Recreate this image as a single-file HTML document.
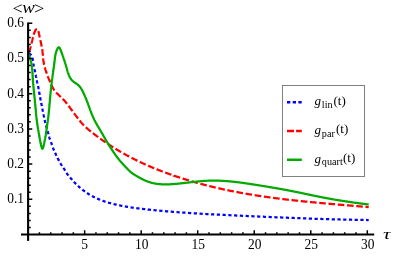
<!DOCTYPE html><html><head><meta charset="utf-8"><style>html,body{margin:0;padding:0;background:#fff;overflow:hidden}body{width:415px;height:259px;position:relative;font-family:"Liberation Serif",serif}</style></head><body><svg width="415" height="259" viewBox="0 0 415 259" style="position:absolute;left:0;top:0;will-change:transform">
<rect width="415" height="259" fill="#fff"/>
<path d="M28.10,53.50 L28.10,53.50 M28.74,53.61 L28.75,53.62 L29.05,53.70 L29.34,53.81 L29.61,53.94 L29.86,54.08 L30.10,54.23 L30.33,54.41 L30.54,54.59 L30.74,54.79 L30.93,55.01 L31.11,55.23 L31.27,55.47 L31.27,55.47 M32.29,57.78 L32.33,57.92 L32.41,58.22 L32.49,58.52 L32.56,58.81 L32.62,59.11 L32.69,59.40 L32.75,59.70 L32.80,59.99 L32.85,60.29 L32.91,60.58 L32.95,60.87 L32.96,60.92 M33.35,63.43 L33.36,63.47 L33.40,63.75 L33.45,64.04 L33.50,64.33 L33.56,64.61 L33.61,64.90 L33.67,65.19 L33.73,65.47 L33.79,65.76 L33.86,66.05 L33.92,66.33 L33.98,66.59 M34.56,69.05 L34.60,69.21 L34.66,69.49 L34.73,69.78 L34.79,70.07 L34.86,70.36 L34.92,70.65 L34.98,70.93 L35.04,71.22 L35.09,71.51 L35.15,71.80 L35.21,72.09 L35.23,72.20 M35.69,74.69 L35.74,74.98 L35.79,75.27 L35.84,75.56 L35.90,75.85 L35.95,76.14 L36.01,76.43 L36.06,76.72 L36.11,77.00 L36.17,77.29 L36.23,77.58 L36.28,77.86 M36.79,80.34 L36.82,80.46 L36.88,80.75 L36.94,81.04 L37.01,81.33 L37.07,81.61 L37.13,81.90 L37.20,82.19 L37.26,82.48 L37.33,82.76 L37.39,83.05 L37.46,83.34 L37.49,83.49 M38.04,85.96 L38.10,86.21 L38.16,86.50 L38.22,86.79 L38.28,87.07 L38.33,87.36 L38.39,87.65 L38.45,87.94 L38.50,88.23 L38.55,88.52 L38.61,88.81 L38.66,89.10 L38.66,89.13 M39.09,91.63 L39.10,91.71 L39.15,92.00 L39.19,92.29 L39.24,92.58 L39.29,92.87 L39.34,93.16 L39.39,93.45 L39.44,93.74 L39.49,94.03 L39.54,94.32 L39.60,94.61 L39.63,94.81 M40.10,97.30 L40.14,97.50 L40.20,97.79 L40.26,98.08 L40.31,98.36 L40.37,98.65 L40.43,98.94 L40.49,99.23 L40.54,99.52 L40.60,99.81 L40.66,100.10 L40.71,100.38 L40.73,100.46 M41.23,102.95 L41.23,102.98 L41.29,103.27 L41.35,103.56 L41.41,103.85 L41.47,104.13 L41.52,104.42 L41.58,104.71 L41.64,105.00 L41.70,105.29 L41.76,105.58 L41.81,105.86 L41.87,106.11 M42.36,108.60 L42.39,108.75 L42.45,109.04 L42.51,109.33 L42.56,109.61 L42.62,109.90 L42.68,110.19 L42.74,110.48 L42.79,110.77 L42.85,111.06 L42.91,111.35 L42.96,111.64 L42.99,111.77 M43.47,114.26 L43.53,114.52 L43.58,114.81 L43.64,115.10 L43.70,115.39 L43.76,115.68 L43.81,115.97 L43.87,116.25 L43.93,116.54 L43.99,116.83 L44.05,117.12 L44.11,117.41 L44.11,117.42 M44.64,119.91 L44.66,120.00 L44.72,120.28 L44.79,120.57 L44.85,120.86 L44.92,121.15 L44.98,121.43 L45.05,121.72 L45.12,122.00 L45.19,122.29 L45.26,122.58 L45.33,122.86 L45.38,123.05 M46.03,125.50 L46.09,125.71 L46.17,125.99 L46.25,126.27 L46.33,126.55 L46.41,126.84 L46.49,127.12 L46.58,127.40 L46.66,127.68 L46.75,127.96 L46.83,128.25 L46.92,128.53 L46.94,128.60 M47.67,131.03 L47.68,131.06 L47.76,131.35 L47.84,131.63 L47.92,131.91 L47.99,132.20 L48.07,132.48 L48.14,132.77 L48.22,133.05 L48.29,133.34 L48.36,133.62 L48.43,133.91 L48.49,134.16 M49.09,136.62 L49.13,136.77 L49.21,137.05 L49.28,137.34 L49.36,137.62 L49.45,137.90 L49.53,138.18 L49.62,138.46 L49.71,138.74 L49.81,139.02 L49.90,139.30 L50.00,139.57 L50.05,139.71 M50.96,142.08 L51.05,142.32 L51.16,142.60 L51.26,142.87 L51.37,143.15 L51.47,143.42 L51.57,143.70 L51.67,143.98 L51.77,144.25 L51.87,144.53 L51.96,144.81 L52.06,145.09 L52.07,145.11 M52.88,147.52 L52.91,147.60 L53.01,147.88 L53.11,148.15 L53.21,148.43 L53.31,148.70 L53.41,148.98 L53.52,149.25 L53.63,149.53 L53.74,149.80 L53.85,150.07 L53.97,150.34 L54.05,150.53 M55.10,152.84 L55.19,153.02 L55.31,153.28 L55.44,153.55 L55.57,153.81 L55.70,154.08 L55.83,154.35 L55.95,154.61 L56.08,154.88 L56.21,155.14 L56.34,155.41 L56.46,155.67 L56.50,155.75 M57.62,158.04 L57.62,158.05 L57.75,158.32 L57.88,158.58 L58.02,158.84 L58.15,159.10 L58.28,159.37 L58.41,159.63 L58.55,159.89 L58.68,160.15 L58.82,160.41 L58.95,160.68 L59.08,160.92 M60.31,163.14 L60.38,163.25 L60.53,163.51 L60.68,163.76 L60.83,164.01 L60.99,164.26 L61.14,164.51 L61.30,164.76 L61.46,165.00 L61.62,165.25 L61.78,165.49 L61.95,165.74 L62.04,165.87 M63.46,167.97 L63.60,168.18 L63.76,168.43 L63.93,168.68 L64.09,168.92 L64.25,169.17 L64.40,169.42 L64.56,169.67 L64.71,169.93 L64.87,170.18 L65.02,170.43 L65.17,170.68 L65.19,170.71 M66.51,172.88 L66.53,172.91 L66.69,173.15 L66.84,173.39 L67.01,173.62 L67.17,173.86 L67.34,174.09 L67.50,174.32 L67.68,174.55 L67.85,174.78 L68.03,175.01 L68.21,175.24 L68.40,175.47 L68.41,175.49 M70.06,177.43 L70.14,177.52 L70.34,177.75 L70.54,177.98 L70.74,178.21 L70.94,178.44 L71.14,178.67 L71.34,178.90 L71.54,179.13 L71.74,179.35 L71.95,179.58 L72.15,179.81 L72.19,179.86 M73.90,181.74 L73.96,181.81 L74.16,182.03 L74.36,182.24 L74.56,182.45 L74.76,182.67 L74.96,182.88 L75.17,183.09 L75.37,183.29 L75.57,183.50 L75.77,183.71 L75.97,183.91 L76.14,184.07 M77.97,185.83 L78.03,185.89 L78.24,186.08 L78.45,186.28 L78.66,186.47 L78.88,186.66 L79.09,186.86 L79.31,187.05 L79.53,187.24 L79.74,187.43 L79.96,187.62 L80.18,187.81 L80.39,187.98 M82.35,189.60 L82.45,189.68 L82.68,189.86 L82.91,190.04 L83.15,190.22 L83.38,190.40 L83.62,190.58 L83.85,190.75 L84.09,190.93 L84.32,191.11 L84.56,191.28 L84.80,191.46 L84.93,191.55 M87.02,192.99 L87.24,193.14 L87.49,193.30 L87.73,193.46 L87.98,193.62 L88.24,193.78 L88.49,193.94 L88.74,194.10 L88.99,194.26 L89.25,194.41 L89.50,194.57 L89.75,194.72 M91.96,195.98 L92.09,196.05 L92.35,196.19 L92.61,196.34 L92.87,196.48 L93.14,196.61 L93.40,196.75 L93.67,196.89 L93.93,197.02 L94.19,197.16 L94.46,197.29 L94.72,197.42 L94.83,197.47 M97.13,198.55 L97.39,198.66 L97.66,198.78 L97.92,198.89 L98.19,199.01 L98.46,199.12 L98.73,199.24 L99.00,199.35 L99.26,199.46 L99.53,199.57 L99.80,199.68 L100.07,199.78 L100.11,199.80 M102.49,200.70 L102.51,200.71 L102.78,200.81 L103.06,200.91 L103.33,201.00 L103.61,201.10 L103.89,201.20 L104.17,201.29 L104.44,201.38 L104.72,201.48 L105.00,201.57 L105.29,201.66 L105.55,201.75 M107.98,202.50 L108.12,202.54 L108.40,202.63 L108.69,202.71 L108.97,202.79 L109.26,202.88 L109.54,202.96 L109.82,203.04 L110.11,203.12 L110.39,203.19 L110.68,203.27 L110.96,203.35 L111.09,203.39 M113.55,204.03 L113.80,204.09 L114.08,204.16 L114.37,204.23 L114.65,204.30 L114.94,204.37 L115.22,204.44 L115.51,204.51 L115.80,204.57 L116.08,204.64 L116.37,204.71 L116.66,204.77 L116.69,204.78 M119.18,205.33 L119.25,205.34 L119.54,205.40 L119.83,205.46 L120.11,205.52 L120.40,205.58 L120.69,205.64 L120.98,205.70 L121.27,205.75 L121.56,205.81 L121.85,205.87 L122.14,205.92 L122.35,205.96 M124.85,206.43 L125.04,206.46 L125.33,206.51 L125.62,206.56 L125.91,206.61 L126.20,206.66 L126.49,206.71 L126.78,206.76 L127.07,206.81 L127.36,206.85 L127.65,206.90 L127.94,206.95 L128.04,206.97 M130.55,207.36 L130.55,207.36 L130.85,207.40 L131.14,207.44 L131.43,207.49 L131.72,207.53 L132.01,207.57 L132.30,207.61 L132.59,207.65 L132.88,207.70 L133.17,207.74 L133.46,207.78 L133.75,207.82 M136.27,208.15 L136.38,208.17 L136.67,208.20 L136.96,208.24 L137.25,208.28 L137.54,208.31 L137.84,208.35 L138.13,208.39 L138.42,208.42 L138.71,208.46 L139.00,208.49 L139.29,208.53 L139.48,208.55 M142.00,208.85 L142.21,208.87 L142.50,208.91 L142.80,208.94 L143.09,208.97 L143.38,209.01 L143.67,209.04 L143.96,209.07 L144.26,209.10 L144.55,209.14 L144.84,209.17 L145.13,209.20 L145.21,209.21 M147.74,209.48 L147.76,209.49 L148.05,209.52 L148.35,209.55 L148.64,209.58 L148.93,209.61 L149.22,209.64 L149.52,209.67 L149.81,209.70 L150.10,209.73 L150.39,209.76 L150.68,209.79 L150.96,209.82 M153.48,210.08 L153.61,210.09 L153.90,210.12 L154.19,210.15 L154.49,210.18 L154.78,210.21 L155.07,210.24 L155.37,210.26 L155.66,210.29 L155.95,210.32 L156.24,210.35 L156.54,210.38 L156.70,210.39 M159.23,210.63 L159.46,210.66 L159.76,210.68 L160.05,210.71 L160.34,210.74 L160.64,210.76 L160.93,210.79 L161.22,210.82 L161.51,210.84 L161.81,210.87 L162.10,210.90 L162.39,210.92 L162.45,210.93 M164.98,211.15 L165.03,211.16 L165.32,211.18 L165.62,211.21 L165.91,211.23 L166.20,211.26 L166.50,211.28 L166.79,211.31 L167.08,211.33 L167.38,211.36 L167.67,211.38 L167.96,211.41 L168.20,211.43 M170.73,211.64 L170.90,211.65 L171.19,211.68 L171.48,211.70 L171.78,211.72 L172.07,211.75 L172.36,211.77 L172.66,211.79 L172.95,211.82 L173.24,211.84 L173.54,211.86 L173.83,211.89 L173.96,211.90 M176.49,212.09 L176.77,212.11 L177.06,212.14 L177.35,212.16 L177.65,212.18 L177.94,212.20 L178.23,212.22 L178.53,212.25 L178.82,212.27 L179.11,212.29 L179.41,212.31 L179.70,212.33 L179.71,212.33 M182.24,212.52 L182.34,212.52 L182.64,212.55 L182.93,212.57 L183.23,212.59 L183.52,212.61 L183.81,212.63 L184.11,212.65 L184.40,212.67 L184.69,212.69 L184.99,212.71 L185.28,212.73 L185.47,212.74 M188.00,212.91 L188.22,212.93 L188.51,212.95 L188.81,212.97 L189.10,212.99 L189.40,213.01 L189.69,213.03 L189.98,213.05 L190.28,213.07 L190.57,213.08 L190.86,213.10 L191.16,213.12 L191.23,213.13 M193.76,213.29 L193.80,213.29 L194.10,213.31 L194.39,213.33 L194.68,213.35 L194.98,213.36 L195.27,213.38 L195.57,213.40 L195.86,213.42 L196.15,213.44 L196.45,213.45 L196.74,213.47 L196.98,213.49 M199.52,213.64 L199.68,213.65 L199.97,213.67 L200.27,213.68 L200.56,213.70 L200.85,213.72 L201.15,213.74 L201.44,213.75 L201.73,213.77 L202.03,213.79 L202.32,213.80 L202.62,213.82 L202.74,213.83 M205.28,213.97 L205.55,213.99 L205.85,214.00 L206.14,214.02 L206.44,214.04 L206.73,214.05 L207.02,214.07 L207.32,214.08 L207.61,214.10 L207.90,214.12 L208.20,214.13 L208.49,214.15 L208.50,214.15 M211.04,214.28 L211.14,214.29 L211.43,214.31 L211.72,214.32 L212.02,214.34 L212.31,214.35 L212.60,214.37 L212.90,214.38 L213.19,214.40 L213.49,214.41 L213.78,214.43 L214.07,214.44 L214.26,214.45 M216.79,214.58 L217.01,214.59 L217.31,214.61 L217.60,214.62 L217.89,214.64 L218.19,214.65 L218.48,214.67 L218.77,214.68 L219.07,214.70 L219.36,214.71 L219.66,214.73 L219.95,214.74 L220.02,214.74 M222.55,214.87 L222.59,214.87 L222.89,214.89 L223.18,214.90 L223.48,214.91 L223.77,214.93 L224.06,214.94 L224.36,214.96 L224.65,214.97 L224.95,214.98 L225.24,215.00 L225.53,215.01 L225.78,215.02 M228.31,215.14 L228.47,215.15 L228.77,215.17 L229.06,215.18 L229.35,215.19 L229.65,215.21 L229.94,215.22 L230.24,215.24 L230.53,215.25 L230.82,215.26 L231.12,215.28 L231.41,215.29 L231.53,215.30 M234.07,215.41 L234.35,215.43 L234.64,215.44 L234.94,215.45 L235.23,215.47 L235.53,215.48 L235.82,215.49 L236.11,215.51 L236.41,215.52 L236.70,215.53 L237.00,215.55 L237.29,215.56 M239.82,215.67 L239.93,215.68 L240.23,215.69 L240.52,215.71 L240.82,215.72 L241.11,215.73 L241.40,215.75 L241.70,215.76 L241.99,215.77 L242.28,215.79 L242.58,215.80 L242.87,215.81 L243.04,215.82 M245.58,215.93 L245.81,215.94 L246.10,215.96 L246.40,215.97 L246.69,215.98 L246.98,216.00 L247.28,216.01 L247.57,216.02 L247.87,216.04 L248.16,216.05 L248.45,216.06 L248.75,216.08 L248.80,216.08 M251.33,216.19 L251.39,216.19 L251.68,216.21 L251.98,216.22 L252.27,216.23 L252.56,216.25 L252.86,216.26 L253.15,216.27 L253.44,216.29 L253.74,216.30 L254.03,216.31 L254.32,216.32 L254.55,216.33 M257.08,216.45 L257.26,216.46 L257.55,216.47 L257.85,216.48 L258.14,216.49 L258.43,216.51 L258.73,216.52 L259.02,216.53 L259.31,216.55 L259.61,216.56 L259.90,216.57 L260.19,216.58 L260.30,216.59 M262.83,216.70 L262.84,216.70 L263.13,216.71 L263.42,216.73 L263.72,216.74 L264.01,216.75 L264.30,216.77 L264.60,216.78 L264.89,216.79 L265.19,216.80 L265.48,216.82 L265.77,216.83 L266.05,216.84 M268.58,216.95 L268.71,216.96 L269.00,216.97 L269.30,216.98 L269.59,216.99 L269.88,217.01 L270.18,217.02 L270.47,217.03 L270.76,217.05 L271.06,217.06 L271.35,217.07 L271.65,217.08 L271.80,217.09 M274.33,217.20 L274.58,217.21 L274.88,217.22 L275.17,217.23 L275.46,217.25 L275.76,217.26 L276.05,217.27 L276.35,217.28 L276.64,217.30 L276.93,217.31 L277.23,217.32 L277.52,217.33 L277.55,217.33 M280.07,217.44 L280.17,217.44 L280.46,217.45 L280.75,217.47 L281.05,217.48 L281.34,217.49 L281.64,217.50 L281.93,217.52 L282.22,217.53 L282.52,217.54 L282.81,217.55 L283.11,217.56 L283.29,217.57 M285.82,217.67 L286.05,217.68 L286.34,217.70 L286.63,217.71 L286.93,217.72 L287.22,217.73 L287.52,217.74 L287.81,217.76 L288.10,217.77 L288.40,217.78 L288.69,217.79 L288.99,217.80 L289.04,217.80 M291.56,217.90 L291.63,217.91 L291.93,217.92 L292.22,217.93 L292.52,217.94 L292.81,217.95 L293.10,217.97 L293.40,217.98 L293.69,217.99 L293.99,218.00 L294.28,218.01 L294.57,218.02 L294.78,218.03 M297.30,218.13 L297.52,218.14 L297.81,218.15 L298.10,218.16 L298.40,218.17 L298.69,218.18 L298.99,218.19 L299.28,218.20 L299.57,218.21 L299.87,218.22 L300.16,218.24 L300.46,218.25 L300.52,218.25 M303.05,218.34 L303.11,218.34 L303.40,218.36 L303.69,218.37 L303.99,218.38 L304.28,218.39 L304.58,218.40 L304.87,218.41 L305.17,218.42 L305.46,218.43 L305.75,218.44 L306.05,218.45 L306.26,218.46 M308.78,218.55 L308.99,218.56 L309.28,218.57 L309.58,218.58 L309.87,218.59 L310.17,218.60 L310.46,218.61 L310.76,218.62 L311.05,218.63 L311.34,218.64 L311.64,218.65 L311.93,218.66 L312.00,218.66 M314.52,218.75 L314.58,218.75 L314.88,218.76 L315.17,218.77 L315.46,218.78 L315.76,218.79 L316.05,218.80 L316.35,218.81 L316.64,218.82 L316.94,218.83 L317.23,218.84 L317.53,218.85 L317.73,218.85 M320.26,218.93 L320.47,218.94 L320.76,218.95 L321.06,218.96 L321.35,218.97 L321.65,218.98 L321.94,218.99 L322.23,219.00 L322.53,219.01 L322.82,219.01 L323.12,219.02 L323.41,219.03 L323.47,219.03 M325.99,219.11 L326.06,219.11 L326.35,219.12 L326.65,219.13 L326.94,219.14 L327.24,219.15 L327.53,219.16 L327.83,219.16 L328.12,219.17 L328.41,219.18 L328.71,219.19 L329.00,219.20 L329.20,219.20 M331.72,219.28 L331.95,219.28 L332.24,219.29 L332.53,219.30 L332.83,219.31 L333.12,219.31 L333.42,219.32 L333.71,219.33 L334.01,219.34 L334.30,219.35 L334.59,219.35 L334.89,219.36 L334.93,219.36 M337.45,219.43 L337.54,219.43 L337.83,219.44 L338.12,219.45 L338.42,219.45 L338.71,219.46 L339.01,219.47 L339.30,219.47 L339.60,219.48 L339.89,219.49 L340.18,219.50 L340.48,219.50 L340.66,219.51 M343.18,219.57 L343.42,219.57 L343.71,219.58 L344.01,219.59 L344.30,219.59 L344.60,219.60 L344.89,219.61 L345.18,219.61 L345.48,219.62 L345.77,219.63 L346.07,219.63 L346.36,219.64 L346.39,219.64 M348.90,219.69 L349.01,219.70 L349.30,219.70 L349.60,219.71 L349.89,219.71 L350.18,219.72 L350.48,219.73 L350.77,219.73 L351.07,219.74 L351.36,219.74 L351.65,219.75 L351.95,219.76 L352.11,219.76 M354.63,219.81 L354.89,219.81 L355.18,219.82 L355.48,219.82 L355.77,219.83 L356.06,219.83 L356.36,219.84 L356.65,219.84 L356.95,219.85 L357.24,219.85 L357.53,219.86 L357.83,219.86 L357.83,219.86 M360.35,219.90 L360.47,219.90 L360.77,219.91 L361.06,219.91 L361.36,219.92 L361.65,219.92 L361.94,219.93 L362.24,219.93 L362.53,219.93 L362.82,219.94 L363.12,219.94 L363.41,219.95 L363.55,219.95 M366.07,219.98 L366.35,219.99 L366.64,219.99 L366.94,219.99 L367.23,220.00 L367.53,220.00 L367.82,220.00 L368.11,220.01 L368.41,220.01 L368.70,220.01" fill="none" stroke="#0000ff" stroke-width="2.25"/>
<path d="M28.10,53.50 L28.10,53.50 M28.69,52.43 L28.80,52.21 L28.93,51.95 L29.05,51.68 L29.17,51.41 L29.28,51.14 L29.39,50.87 L29.50,50.60 L29.60,50.33 L29.70,50.06 L29.80,49.78 L29.89,49.50 L29.98,49.23 L30.07,48.95 L30.16,48.67 L30.24,48.39 L30.32,48.11 L30.40,47.82 L30.47,47.54 L30.55,47.26 L30.62,46.97 L30.70,46.69 L30.77,46.41 L30.83,46.17 M31.44,43.60 L31.45,43.55 L31.51,43.27 L31.58,42.98 L31.65,42.70 L31.72,42.41 L31.78,42.13 L31.85,41.84 L31.92,41.56 L31.98,41.27 L32.05,40.99 L32.12,40.70 L32.18,40.42 L32.25,40.14 L32.32,39.85 L32.38,39.57 L32.45,39.28 L32.52,39.00 L32.58,38.72 L32.65,38.43 L32.72,38.15 L32.79,37.87 L32.86,37.58 L32.93,37.30 L32.97,37.15 M33.68,34.61 L33.73,34.47 L33.82,34.19 L33.91,33.90 L34.01,33.63 L34.11,33.35 L34.21,33.07 L34.31,32.80 L34.41,32.53 L34.52,32.26 L34.62,31.99 L34.73,31.73 L34.84,31.47 L34.95,31.22 L35.07,30.96 L35.20,30.71 L35.35,30.46 L35.51,30.21 L35.69,29.95 L35.90,29.70 L36.13,29.45 L36.37,29.23 L36.62,29.07 L36.86,29.00 L36.86,29.00 M38.27,31.11 L38.31,31.21 L38.40,31.48 L38.49,31.75 L38.57,32.01 L38.64,32.28 L38.71,32.54 L38.78,32.81 L38.85,33.09 L38.92,33.37 L38.98,33.65 L39.05,33.94 L39.12,34.22 L39.18,34.51 L39.24,34.80 L39.31,35.09 L39.37,35.38 L39.43,35.68 L39.49,35.97 L39.55,36.26 L39.62,36.55 L39.68,36.83 L39.74,37.12 L39.80,37.41 L39.82,37.54 M40.37,40.12 L40.40,40.26 L40.46,40.54 L40.52,40.83 L40.58,41.12 L40.64,41.40 L40.70,41.69 L40.76,41.97 L40.82,42.26 L40.88,42.55 L40.94,42.83 L41.00,43.12 L41.06,43.41 L41.12,43.69 L41.18,43.98 L41.24,44.27 L41.30,44.55 L41.36,44.84 L41.42,45.13 L41.48,45.41 L41.54,45.70 L41.60,45.99 L41.66,46.27 L41.72,46.56 L41.73,46.58 M42.22,49.17 L42.26,49.44 L42.30,49.72 L42.35,50.01 L42.39,50.30 L42.42,50.59 L42.46,50.88 L42.49,51.17 L42.53,51.46 L42.56,51.75 L42.59,52.04 L42.62,52.34 L42.64,52.63 L42.67,52.92 L42.70,53.21 L42.72,53.50 L42.74,53.79 L42.77,54.09 L42.79,54.38 L42.81,54.67 L42.83,54.96 L42.85,55.25 L42.88,55.55 L42.89,55.74 M43.11,58.36 L43.12,58.46 L43.15,58.75 L43.18,59.04 L43.22,59.33 L43.25,59.63 L43.29,59.92 L43.33,60.20 L43.37,60.49 L43.41,60.78 L43.45,61.07 L43.50,61.36 L43.55,61.65 L43.60,61.94 L43.65,62.23 L43.70,62.51 L43.76,62.80 L43.81,63.09 L43.87,63.37 L43.93,63.66 L43.99,63.95 L44.05,64.23 L44.12,64.52 L44.18,64.80 L44.20,64.86 M44.84,67.40 L44.91,67.64 L44.99,67.93 L45.07,68.21 L45.15,68.49 L45.23,68.77 L45.31,69.05 L45.40,69.33 L45.48,69.62 L45.57,69.90 L45.65,70.18 L45.74,70.46 L45.83,70.74 L45.92,71.02 L46.01,71.29 L46.10,71.57 L46.19,71.85 L46.28,72.13 L46.37,72.41 L46.46,72.69 L46.56,72.96 L46.65,73.24 L46.75,73.52 L46.81,73.69 M47.71,76.16 L47.75,76.27 L47.86,76.54 L47.96,76.81 L48.07,77.08 L48.18,77.35 L48.29,77.63 L48.40,77.90 L48.51,78.17 L48.62,78.44 L48.73,78.71 L48.85,78.98 L48.96,79.24 L49.07,79.51 L49.19,79.78 L49.31,80.05 L49.42,80.32 L49.54,80.58 L49.66,80.85 L49.78,81.12 L49.90,81.38 L50.02,81.65 L50.14,81.92 L50.26,82.19 L50.27,82.22 M51.34,84.61 L51.45,84.86 L51.57,85.13 L51.69,85.40 L51.81,85.67 L51.93,85.94 L52.06,86.20 L52.18,86.47 L52.30,86.74 L52.43,87.00 L52.56,87.26 L52.69,87.52 L52.82,87.79 L52.96,88.04 L53.10,88.30 L53.24,88.55 L53.39,88.81 L53.54,89.06 L53.69,89.30 L53.85,89.55 L54.01,89.79 L54.17,90.03 L54.34,90.27 L54.44,90.39 M56.12,92.40 L56.22,92.51 L56.42,92.72 L56.63,92.93 L56.83,93.15 L57.04,93.36 L57.25,93.56 L57.46,93.77 L57.67,93.98 L57.88,94.19 L58.09,94.39 L58.30,94.59 L58.51,94.80 L58.73,95.00 L58.94,95.20 L59.15,95.41 L59.37,95.61 L59.58,95.81 L59.80,96.01 L60.01,96.21 L60.22,96.41 L60.44,96.61 L60.65,96.82 L60.83,96.99 M62.71,98.81 L62.75,98.85 L62.96,99.05 L63.16,99.26 L63.37,99.47 L63.57,99.68 L63.77,99.89 L63.97,100.10 L64.17,100.32 L64.36,100.53 L64.56,100.75 L64.75,100.97 L64.95,101.19 L65.14,101.41 L65.32,101.63 L65.51,101.86 L65.70,102.08 L65.88,102.31 L66.07,102.54 L66.25,102.77 L66.43,103.00 L66.61,103.23 L66.79,103.46 L66.97,103.69 L67.02,103.76 M68.59,105.86 L68.72,106.03 L68.89,106.26 L69.06,106.50 L69.24,106.73 L69.41,106.97 L69.58,107.20 L69.75,107.43 L69.92,107.67 L70.09,107.90 L70.27,108.13 L70.44,108.37 L70.61,108.60 L70.78,108.83 L70.95,109.06 L71.12,109.30 L71.29,109.53 L71.46,109.76 L71.63,109.99 L71.80,110.22 L71.98,110.46 L72.15,110.69 L72.32,110.92 L72.48,111.14 M74.04,113.24 L74.05,113.25 L74.22,113.48 L74.40,113.72 L74.58,113.95 L74.75,114.19 L74.93,114.42 L75.11,114.66 L75.29,114.90 L75.47,115.13 L75.64,115.37 L75.83,115.61 L76.01,115.85 L76.19,116.09 L76.37,116.33 L76.56,116.57 L76.74,116.82 L76.93,117.06 L77.11,117.30 L77.30,117.55 L77.49,117.80 L77.68,118.04 L77.87,118.29 L78.01,118.47 M79.62,120.53 L79.81,120.77 L80.00,121.01 L80.19,121.24 L80.38,121.47 L80.56,121.70 L80.75,121.93 L80.94,122.15 L81.12,122.36 L81.30,122.58 L81.48,122.79 L81.67,122.99 L81.85,123.20 L82.03,123.40 L82.21,123.60 L82.39,123.80 L82.57,123.99 L82.75,124.18 L82.93,124.38 L83.11,124.57 L83.29,124.76 L83.47,124.94 L83.66,125.13 L83.84,125.32 L83.96,125.44 M85.84,127.26 L85.96,127.37 L86.17,127.56 L86.38,127.75 L86.59,127.94 L86.80,128.13 L87.02,128.32 L87.23,128.52 L87.45,128.71 L87.68,128.90 L87.90,129.10 L88.13,129.29 L88.35,129.48 L88.58,129.68 L88.81,129.87 L89.04,130.06 L89.27,130.25 L89.51,130.45 L89.74,130.64 L89.97,130.83 L90.21,131.02 L90.44,131.21 L90.68,131.40 L90.83,131.52 M92.89,133.13 L93.02,133.24 L93.25,133.42 L93.48,133.60 L93.71,133.77 L93.94,133.95 L94.17,134.12 L94.40,134.30 L94.63,134.47 L94.86,134.65 L95.09,134.82 L95.32,134.99 L95.54,135.17 L95.77,135.34 L96.00,135.51 L96.23,135.68 L96.46,135.86 L96.69,136.03 L96.93,136.20 L97.16,136.38 L97.39,136.55 L97.63,136.72 L97.86,136.89 L98.10,137.07 L98.12,137.09 M100.24,138.62 L100.29,138.66 L100.54,138.84 L100.79,139.02 L101.05,139.20 L101.30,139.39 L101.56,139.57 L101.82,139.75 L102.08,139.93 L102.34,140.12 L102.60,140.30 L102.86,140.48 L103.12,140.67 L103.38,140.85 L103.64,141.03 L103.90,141.21 L104.16,141.39 L104.42,141.57 L104.68,141.75 L104.94,141.93 L105.20,142.10 L105.46,142.28 L105.61,142.38 M107.78,143.84 L107.96,143.96 L108.20,144.12 L108.44,144.27 L108.68,144.43 L108.91,144.59 L109.15,144.74 L109.38,144.90 L109.62,145.05 L109.85,145.20 L110.09,145.35 L110.32,145.51 L110.55,145.66 L110.78,145.81 L111.02,145.96 L111.25,146.10 L111.48,146.25 L111.71,146.40 L111.95,146.55 L112.18,146.70 L112.41,146.84 L112.65,146.99 L112.88,147.14 L113.11,147.29 L113.30,147.40 M115.52,148.78 L115.76,148.93 L116.01,149.08 L116.25,149.23 L116.50,149.38 L116.75,149.53 L117.00,149.68 L117.24,149.83 L117.49,149.98 L117.74,150.12 L117.99,150.27 L118.24,150.42 L118.49,150.57 L118.74,150.72 L118.99,150.87 L119.24,151.01 L119.49,151.16 L119.74,151.31 L119.99,151.45 L120.24,151.60 L120.49,151.74 L120.73,151.89 L120.98,152.03 L121.16,152.13 M123.43,153.43 L123.47,153.45 L123.71,153.59 L123.96,153.73 L124.21,153.87 L124.46,154.00 L124.71,154.14 L124.96,154.28 L125.21,154.42 L125.46,154.56 L125.71,154.69 L125.96,154.83 L126.21,154.97 L126.46,155.11 L126.71,155.24 L126.96,155.38 L127.21,155.52 L127.47,155.65 L127.72,155.79 L127.97,155.93 L128.23,156.06 L128.48,156.20 L128.74,156.33 L128.99,156.47 L129.20,156.58 M131.52,157.79 L131.58,157.83 L131.85,157.96 L132.11,158.10 L132.37,158.23 L132.64,158.37 L132.90,158.50 L133.17,158.64 L133.43,158.77 L133.70,158.91 L133.96,159.04 L134.23,159.18 L134.50,159.31 L134.76,159.44 L135.03,159.58 L135.30,159.71 L135.57,159.84 L135.84,159.98 L136.10,160.11 L136.37,160.24 L136.64,160.37 L136.91,160.50 L137.18,160.64 L137.39,160.74 M139.75,161.87 L139.88,161.93 L140.15,162.06 L140.42,162.19 L140.69,162.31 L140.96,162.44 L141.23,162.57 L141.49,162.69 L141.76,162.82 L142.03,162.94 L142.30,163.07 L142.57,163.19 L142.84,163.31 L143.11,163.44 L143.37,163.56 L143.64,163.68 L143.91,163.80 L144.17,163.92 L144.44,164.04 L144.71,164.16 L144.97,164.28 L145.24,164.40 L145.51,164.52 L145.72,164.62 M148.12,165.68 L148.16,165.70 L148.43,165.81 L148.70,165.93 L148.96,166.04 L149.23,166.16 L149.49,166.27 L149.76,166.38 L150.02,166.50 L150.29,166.61 L150.56,166.72 L150.82,166.84 L151.09,166.95 L151.35,167.06 L151.62,167.17 L151.89,167.29 L152.15,167.40 L152.42,167.51 L152.69,167.62 L152.95,167.73 L153.22,167.84 L153.49,167.95 L153.76,168.06 L154.02,168.17 L154.18,168.24 M156.61,169.22 L156.72,169.27 L156.99,169.37 L157.26,169.48 L157.53,169.59 L157.80,169.70 L158.08,169.81 L158.35,169.91 L158.62,170.02 L158.89,170.13 L159.17,170.23 L159.44,170.34 L159.71,170.45 L159.99,170.55 L160.26,170.66 L160.53,170.77 L160.81,170.87 L161.08,170.98 L161.36,171.08 L161.63,171.19 L161.91,171.29 L162.18,171.40 L162.46,171.50 L162.74,171.61 L162.74,171.61 M165.20,172.53 L165.23,172.54 L165.50,172.64 L165.78,172.74 L166.06,172.85 L166.34,172.95 L166.62,173.05 L166.89,173.15 L167.17,173.25 L167.45,173.35 L167.73,173.45 L168.01,173.56 L168.29,173.66 L168.57,173.76 L168.85,173.86 L169.13,173.96 L169.41,174.06 L169.69,174.16 L169.97,174.26 L170.25,174.36 L170.53,174.45 L170.81,174.55 L171.09,174.65 L171.37,174.75 L171.40,174.76 M173.89,175.62 L173.89,175.63 L174.17,175.72 L174.45,175.82 L174.73,175.91 L175.01,176.01 L175.29,176.10 L175.57,176.20 L175.85,176.29 L176.13,176.39 L176.41,176.48 L176.69,176.58 L176.97,176.67 L177.25,176.76 L177.52,176.85 L177.80,176.95 L178.08,177.04 L178.36,177.13 L178.64,177.22 L178.91,177.31 L179.19,177.41 L179.47,177.50 L179.75,177.59 L180.02,177.68 L180.14,177.72 M182.65,178.52 L182.79,178.57 L183.06,178.65 L183.34,178.74 L183.62,178.83 L183.89,178.91 L184.17,179.00 L184.44,179.09 L184.72,179.17 L184.99,179.26 L185.27,179.34 L185.54,179.43 L185.82,179.51 L186.09,179.60 L186.37,179.68 L186.64,179.77 L186.92,179.85 L187.19,179.94 L187.47,180.02 L187.74,180.10 L188.02,180.19 L188.29,180.27 L188.57,180.35 L188.85,180.44 L188.95,180.47 M191.48,181.22 L191.60,181.26 L191.88,181.34 L192.16,181.42 L192.43,181.50 L192.71,181.58 L192.99,181.66 L193.26,181.74 L193.54,181.82 L193.82,181.90 L194.09,181.98 L194.37,182.06 L194.65,182.14 L194.93,182.22 L195.21,182.30 L195.49,182.38 L195.76,182.46 L196.04,182.53 L196.32,182.61 L196.60,182.69 L196.88,182.77 L197.16,182.85 L197.44,182.93 L197.72,183.00 L197.83,183.03 M200.37,183.73 L200.53,183.77 L200.82,183.85 L201.10,183.93 L201.38,184.00 L201.66,184.08 L201.95,184.15 L202.23,184.23 L202.51,184.30 L202.80,184.38 L203.08,184.45 L203.36,184.53 L203.65,184.60 L203.93,184.68 L204.21,184.75 L204.50,184.83 L204.78,184.90 L205.07,184.97 L205.35,185.05 L205.64,185.12 L205.92,185.19 L206.21,185.27 L206.49,185.34 L206.76,185.41 M209.32,186.05 L209.35,186.06 L209.63,186.13 L209.92,186.20 L210.20,186.27 L210.49,186.34 L210.78,186.41 L211.06,186.48 L211.35,186.55 L211.63,186.62 L211.92,186.69 L212.21,186.76 L212.49,186.83 L212.78,186.90 L213.07,186.97 L213.35,187.04 L213.64,187.11 L213.93,187.17 L214.21,187.24 L214.50,187.31 L214.79,187.38 L215.07,187.45 L215.36,187.51 L215.65,187.58 L215.75,187.60 M218.32,188.20 L218.51,188.24 L218.79,188.31 L219.08,188.37 L219.37,188.44 L219.65,188.50 L219.94,188.56 L220.22,188.63 L220.51,188.69 L220.79,188.76 L221.08,188.82 L221.37,188.88 L221.65,188.95 L221.94,189.01 L222.22,189.07 L222.51,189.13 L222.79,189.20 L223.07,189.26 L223.36,189.32 L223.64,189.38 L223.93,189.44 L224.21,189.51 L224.50,189.57 L224.78,189.63 L224.79,189.63 M227.37,190.17 L227.62,190.23 L227.91,190.29 L228.19,190.35 L228.48,190.40 L228.76,190.46 L229.04,190.52 L229.33,190.58 L229.61,190.64 L229.90,190.70 L230.18,190.75 L230.47,190.81 L230.75,190.87 L231.04,190.93 L231.32,190.98 L231.61,191.04 L231.89,191.10 L232.18,191.16 L232.46,191.21 L232.75,191.27 L233.04,191.33 L233.32,191.38 L233.61,191.44 L233.86,191.49 M236.45,191.99 L236.48,191.99 L236.77,192.05 L237.05,192.10 L237.34,192.16 L237.63,192.21 L237.92,192.27 L238.20,192.32 L238.49,192.38 L238.78,192.43 L239.07,192.48 L239.36,192.54 L239.65,192.59 L239.93,192.64 L240.22,192.70 L240.51,192.75 L240.80,192.80 L241.09,192.85 L241.38,192.91 L241.67,192.96 L241.95,193.01 L242.24,193.06 L242.53,193.12 L242.82,193.17 L242.97,193.19 M245.57,193.65 L245.71,193.68 L246.00,193.73 L246.29,193.78 L246.58,193.83 L246.87,193.88 L247.15,193.93 L247.44,193.98 L247.73,194.03 L248.02,194.08 L248.31,194.12 L248.60,194.17 L248.89,194.22 L249.18,194.27 L249.47,194.32 L249.76,194.37 L250.04,194.42 L250.33,194.46 L250.62,194.51 L250.91,194.56 L251.20,194.61 L251.49,194.66 L251.78,194.70 L252.07,194.75 L252.11,194.76 M254.72,195.18 L254.96,195.22 L255.25,195.26 L255.54,195.31 L255.83,195.35 L256.12,195.40 L256.41,195.44 L256.71,195.49 L257.00,195.53 L257.29,195.58 L257.58,195.62 L257.87,195.67 L258.16,195.71 L258.45,195.76 L258.74,195.80 L259.03,195.85 L259.32,195.89 L259.61,195.94 L259.90,195.98 L260.19,196.02 L260.48,196.07 L260.77,196.11 L261.07,196.15 L261.27,196.19 M263.89,196.57 L263.98,196.58 L264.27,196.62 L264.56,196.67 L264.85,196.71 L265.14,196.75 L265.43,196.79 L265.72,196.83 L266.01,196.87 L266.30,196.92 L266.60,196.96 L266.89,197.00 L267.18,197.04 L267.47,197.08 L267.76,197.12 L268.05,197.16 L268.34,197.20 L268.63,197.24 L268.92,197.28 L269.21,197.32 L269.50,197.36 L269.79,197.40 L270.08,197.44 L270.37,197.48 L270.46,197.49 M273.08,197.84 L273.26,197.87 L273.55,197.91 L273.84,197.95 L274.13,197.98 L274.42,198.02 L274.71,198.06 L275.00,198.10 L275.28,198.13 L275.57,198.17 L275.86,198.21 L276.15,198.25 L276.44,198.28 L276.73,198.32 L277.01,198.36 L277.30,198.39 L277.59,198.43 L277.88,198.47 L278.17,198.50 L278.46,198.54 L278.74,198.58 L279.03,198.61 L279.32,198.65 L279.61,198.68 L279.66,198.69 M282.29,199.01 L282.50,199.04 L282.78,199.07 L283.07,199.11 L283.36,199.14 L283.65,199.18 L283.94,199.21 L284.23,199.25 L284.52,199.28 L284.81,199.32 L285.10,199.35 L285.39,199.39 L285.68,199.42 L285.97,199.45 L286.26,199.49 L286.55,199.52 L286.84,199.56 L287.14,199.59 L287.43,199.62 L287.72,199.66 L288.01,199.69 L288.30,199.72 L288.59,199.76 L288.88,199.79 L288.88,199.79 M291.51,200.09 L291.79,200.12 L292.08,200.15 L292.37,200.19 L292.67,200.22 L292.96,200.25 L293.25,200.28 L293.54,200.31 L293.83,200.35 L294.12,200.38 L294.41,200.41 L294.70,200.44 L295.00,200.47 L295.29,200.50 L295.58,200.54 L295.87,200.57 L296.16,200.60 L296.45,200.63 L296.74,200.66 L297.04,200.69 L297.33,200.72 L297.62,200.75 L297.91,200.79 L298.11,200.81 M300.74,201.08 L300.82,201.09 L301.11,201.12 L301.40,201.15 L301.69,201.18 L301.99,201.21 L302.28,201.24 L302.57,201.27 L302.86,201.30 L303.15,201.33 L303.44,201.36 L303.73,201.39 L304.02,201.42 L304.31,201.45 L304.61,201.48 L304.90,201.51 L305.19,201.54 L305.48,201.56 L305.77,201.59 L306.06,201.62 L306.35,201.65 L306.64,201.68 L306.93,201.71 L307.23,201.74 L307.35,201.75 M309.98,202.01 L310.14,202.02 L310.43,202.05 L310.72,202.08 L311.01,202.11 L311.30,202.14 L311.59,202.16 L311.89,202.19 L312.18,202.22 L312.47,202.25 L312.76,202.27 L313.05,202.30 L313.34,202.33 L313.63,202.36 L313.92,202.39 L314.21,202.41 L314.51,202.44 L314.80,202.47 L315.09,202.49 L315.38,202.52 L315.67,202.55 L315.96,202.58 L316.25,202.60 L316.54,202.63 L316.59,202.64 M319.23,202.88 L319.45,202.90 L319.74,202.93 L320.03,202.95 L320.32,202.98 L320.61,203.01 L320.90,203.03 L321.19,203.06 L321.49,203.08 L321.78,203.11 L322.07,203.14 L322.36,203.16 L322.65,203.19 L322.94,203.22 L323.23,203.24 L323.52,203.27 L323.81,203.29 L324.10,203.32 L324.39,203.35 L324.68,203.37 L324.97,203.40 L325.26,203.42 L325.55,203.45 L325.84,203.47 L325.84,203.47 M328.48,203.71 L328.74,203.73 L329.03,203.76 L329.32,203.78 L329.61,203.81 L329.90,203.83 L330.19,203.86 L330.48,203.88 L330.77,203.91 L331.06,203.93 L331.35,203.96 L331.64,203.98 L331.94,204.01 L332.23,204.03 L332.52,204.06 L332.81,204.08 L333.10,204.11 L333.39,204.13 L333.68,204.16 L333.97,204.18 L334.26,204.21 L334.56,204.23 L334.85,204.26 L335.09,204.28 M337.73,204.51 L337.76,204.51 L338.06,204.53 L338.35,204.56 L338.64,204.58 L338.93,204.61 L339.22,204.63 L339.52,204.66 L339.81,204.68 L340.10,204.71 L340.39,204.73 L340.69,204.76 L340.98,204.78 L341.27,204.81 L341.56,204.83 L341.85,204.86 L342.15,204.88 L342.44,204.91 L342.73,204.93 L343.02,204.96 L343.31,204.98 L343.61,205.01 L343.90,205.03 L344.19,205.06 L344.34,205.07 M346.98,205.29 L347.11,205.30 L347.40,205.33 L347.69,205.35 L347.99,205.38 L348.28,205.40 L348.57,205.42 L348.86,205.45 L349.15,205.47 L349.44,205.50 L349.73,205.52 L350.03,205.55 L350.32,205.57 L350.61,205.60 L350.90,205.62 L351.19,205.65 L351.48,205.67 L351.78,205.70 L352.07,205.72 L352.36,205.74 L352.65,205.77 L352.94,205.79 L353.23,205.82 L353.52,205.84 L353.59,205.85 M356.23,206.07 L356.44,206.09 L356.73,206.12 L357.02,206.14 L357.31,206.16 L357.61,206.19 L357.90,206.21 L358.19,206.24 L358.48,206.26 L358.77,206.29 L359.06,206.31 L359.35,206.34 L359.65,206.36 L359.94,206.39 L360.23,206.41 L360.52,206.44 L360.81,206.46 L361.10,206.49 L361.40,206.51 L361.69,206.54 L361.98,206.56 L362.27,206.59 L362.56,206.61 L362.84,206.64 M365.47,206.87 L365.48,206.87 L365.78,206.89 L366.07,206.92 L366.36,206.94 L366.65,206.97 L366.95,206.99 L367.24,207.02 L367.53,207.04 L367.82,207.07 L368.11,207.10 L368.41,207.12 L368.70,207.15" fill="none" stroke="#ff0000" stroke-width="2.25"/>
<path d="M28.10,53.50 L28.28,53.86 L28.46,54.21 L28.63,54.57 L28.79,54.93 L28.95,55.30 L29.11,55.66 L29.26,56.02 L29.41,56.39 L29.55,56.76 L29.69,57.12 L29.82,57.49 L29.95,57.86 L30.07,58.23 L30.19,58.61 L30.31,58.98 L30.42,59.35 L30.52,59.73 L30.63,60.10 L30.73,60.48 L30.82,60.86 L30.92,61.24 L31.01,61.62 L31.09,62.00 L31.17,62.38 L31.25,62.76 L31.33,63.15 L31.40,63.53 L31.47,63.91 L31.54,64.30 L31.60,64.68 L31.67,65.07 L31.72,65.46 L31.78,65.85 L31.83,66.23 L31.89,66.62 L31.94,67.01 L31.98,67.40 L32.03,67.79 L32.07,68.18 L32.11,68.58 L32.15,68.97 L32.19,69.36 L32.23,69.75 L32.26,70.14 L32.30,70.54 L32.33,70.93 L32.36,71.33 L32.39,71.72 L32.42,72.11 L32.44,72.51 L32.47,72.90 L32.50,73.30 L32.52,73.69 L32.55,74.09 L32.57,74.48 L32.59,74.88 L32.62,75.28 L32.64,75.67 L32.66,76.07 L32.69,76.46 L32.71,76.86 L32.73,77.25 L32.75,77.65 L32.78,78.04 L32.80,78.44 L32.83,78.84 L32.85,79.23 L32.88,79.62 L32.90,80.02 L32.93,80.41 L32.96,80.81 L32.98,81.20 L33.01,81.60 L33.04,81.99 L33.07,82.38 L33.10,82.78 L33.14,83.17 L33.17,83.56 L33.20,83.95 L33.24,84.35 L33.27,84.74 L33.30,85.13 L33.34,85.52 L33.38,85.91 L33.41,86.31 L33.45,86.70 L33.49,87.09 L33.52,87.48 L33.56,87.87 L33.60,88.26 L33.64,88.65 L33.68,89.04 L33.72,89.43 L33.75,89.82 L33.79,90.22 L33.83,90.61 L33.87,91.00 L33.91,91.39 L33.95,91.78 L34.00,92.17 L34.04,92.56 L34.08,92.95 L34.12,93.34 L34.16,93.73 L34.20,94.12 L34.24,94.51 L34.28,94.90 L34.32,95.29 L34.36,95.68 L34.40,96.07 L34.44,96.46 L34.48,96.85 L34.52,97.24 L34.56,97.63 L34.60,98.02 L34.64,98.41 L34.68,98.80 L34.72,99.19 L34.76,99.58 L34.80,99.97 L34.84,100.36 L34.87,100.75 L34.91,101.14 L34.95,101.53 L34.98,101.93 L35.02,102.32 L35.06,102.71 L35.09,103.10 L35.13,103.49 L35.16,103.88 L35.20,104.27 L35.24,104.66 L35.27,105.06 L35.31,105.45 L35.34,105.84 L35.38,106.23 L35.41,106.62 L35.45,107.01 L35.48,107.40 L35.52,107.80 L35.55,108.19 L35.59,108.58 L35.62,108.97 L35.66,109.36 L35.69,109.75 L35.73,110.15 L35.77,110.54 L35.80,110.93 L35.84,111.32 L35.88,111.71 L35.91,112.10 L35.95,112.49 L35.99,112.89 L36.03,113.28 L36.06,113.67 L36.10,114.06 L36.14,114.45 L36.18,114.84 L36.22,115.23 L36.26,115.62 L36.30,116.01 L36.34,116.41 L36.39,116.80 L36.43,117.19 L36.47,117.58 L36.51,117.97 L36.56,118.36 L36.60,118.75 L36.65,119.14 L36.69,119.53 L36.74,119.92 L36.79,120.31 L36.84,120.70 L36.88,121.09 L36.93,121.48 L36.98,121.87 L37.04,122.26 L37.09,122.65 L37.14,123.04 L37.19,123.42 L37.25,123.81 L37.31,124.20 L37.36,124.59 L37.42,124.98 L37.48,125.37 L37.54,125.76 L37.60,126.15 L37.66,126.54 L37.73,126.93 L37.79,127.31 L37.86,127.70 L37.92,128.09 L37.99,128.48 L38.06,128.87 L38.12,129.26 L38.19,129.64 L38.26,130.03 L38.33,130.42 L38.40,130.81 L38.46,131.19 L38.53,131.58 L38.60,131.97 L38.67,132.35 L38.73,132.74 L38.80,133.12 L38.87,133.51 L38.93,133.89 L39.00,134.28 L39.06,134.66 L39.12,135.05 L39.19,135.43 L39.25,135.82 L39.32,136.20 L39.38,136.59 L39.45,136.97 L39.51,137.36 L39.58,137.75 L39.65,138.14 L39.72,138.53 L39.79,138.93 L39.86,139.32 L39.93,139.72 L40.01,140.12 L40.09,140.52 L40.17,140.92 L40.25,141.31 L40.32,141.70 L40.40,142.09 L40.48,142.47 L40.56,142.85 L40.64,143.22 L40.71,143.59 L40.79,143.95 L40.86,144.29 L40.93,144.64 L41.01,144.98 L41.09,145.34 L41.18,145.70 L41.28,146.09 L41.39,146.50 L41.52,146.94 L41.67,147.42 L41.83,147.91 L42.01,148.34 L42.19,148.66 L42.38,148.80 L42.57,148.71 L42.76,148.42 L42.93,148.00 L43.10,147.52 L43.25,147.04 L43.38,146.59 L43.50,146.17 L43.60,145.78 L43.69,145.41 L43.77,145.05 L43.85,144.71 L43.92,144.36 L44.00,144.02 L44.07,143.66 L44.14,143.30 L44.22,142.93 L44.30,142.55 L44.37,142.17 L44.45,141.78 L44.53,141.39 L44.61,141.00 L44.69,140.60 L44.77,140.20 L44.84,139.80 L44.92,139.41 L45.00,139.01 L45.07,138.61 L45.15,138.22 L45.22,137.83 L45.30,137.44 L45.37,137.06 L45.44,136.67 L45.51,136.29 L45.58,135.90 L45.65,135.52 L45.71,135.13 L45.78,134.75 L45.84,134.37 L45.90,133.98 L45.96,133.60 L46.02,133.21 L46.08,132.82 L46.14,132.44 L46.20,132.05 L46.25,131.66 L46.31,131.27 L46.36,130.88 L46.42,130.49 L46.47,130.10 L46.52,129.71 L46.58,129.32 L46.63,128.93 L46.68,128.54 L46.74,128.15 L46.79,127.76 L46.84,127.37 L46.89,126.98 L46.95,126.59 L47.00,126.20 L47.06,125.81 L47.11,125.42 L47.17,125.03 L47.22,124.64 L47.28,124.25 L47.34,123.86 L47.40,123.47 L47.45,123.09 L47.51,122.70 L47.57,122.31 L47.63,121.92 L47.68,121.53 L47.74,121.14 L47.79,120.75 L47.85,120.37 L47.90,119.98 L47.96,119.59 L48.01,119.20 L48.06,118.81 L48.11,118.42 L48.16,118.03 L48.21,117.64 L48.26,117.25 L48.31,116.86 L48.35,116.47 L48.40,116.07 L48.44,115.68 L48.49,115.29 L48.53,114.90 L48.57,114.51 L48.62,114.12 L48.66,113.73 L48.70,113.34 L48.74,112.94 L48.78,112.55 L48.82,112.16 L48.86,111.77 L48.90,111.38 L48.94,110.99 L48.97,110.59 L49.01,110.20 L49.05,109.81 L49.08,109.42 L49.12,109.03 L49.16,108.63 L49.19,108.24 L49.23,107.85 L49.26,107.46 L49.30,107.07 L49.33,106.68 L49.36,106.28 L49.40,105.89 L49.43,105.50 L49.46,105.11 L49.50,104.72 L49.53,104.33 L49.56,103.94 L49.60,103.54 L49.63,103.15 L49.66,102.76 L49.70,102.37 L49.73,101.98 L49.76,101.59 L49.80,101.20 L49.83,100.81 L49.86,100.42 L49.90,100.03 L49.93,99.64 L49.96,99.25 L50.00,98.87 L50.03,98.48 L50.07,98.09 L50.10,97.70 L50.14,97.31 L50.17,96.92 L50.21,96.53 L50.24,96.15 L50.28,95.76 L50.31,95.37 L50.35,94.98 L50.39,94.59 L50.42,94.21 L50.46,93.82 L50.50,93.43 L50.53,93.04 L50.57,92.65 L50.61,92.27 L50.65,91.88 L50.69,91.49 L50.73,91.10 L50.76,90.71 L50.80,90.32 L50.84,89.93 L50.88,89.54 L50.93,89.15 L50.97,88.76 L51.01,88.37 L51.05,87.98 L51.09,87.59 L51.14,87.20 L51.18,86.81 L51.22,86.42 L51.27,86.03 L51.31,85.64 L51.36,85.24 L51.40,84.85 L51.45,84.46 L51.49,84.06 L51.54,83.67 L51.59,83.28 L51.64,82.88 L51.68,82.49 L51.73,82.09 L51.78,81.69 L51.83,81.30 L51.88,80.90 L51.93,80.50 L51.99,80.10 L52.04,79.70 L52.09,79.30 L52.15,78.90 L52.20,78.50 L52.25,78.10 L52.31,77.70 L52.36,77.30 L52.42,76.90 L52.47,76.50 L52.53,76.10 L52.59,75.69 L52.64,75.29 L52.70,74.89 L52.76,74.49 L52.81,74.09 L52.87,73.69 L52.93,73.29 L52.99,72.89 L53.04,72.48 L53.10,72.09 L53.16,71.69 L53.22,71.29 L53.27,70.89 L53.33,70.49 L53.39,70.10 L53.44,69.70 L53.50,69.30 L53.55,68.91 L53.61,68.52 L53.66,68.13 L53.72,67.73 L53.77,67.34 L53.83,66.96 L53.88,66.57 L53.93,66.18 L53.98,65.80 L54.04,65.41 L54.09,65.03 L54.14,64.65 L54.19,64.27 L54.24,63.89 L54.28,63.52 L54.33,63.14 L54.38,62.77 L54.42,62.40 L54.47,62.03 L54.51,61.67 L54.55,61.30 L54.60,60.94 L54.64,60.58 L54.68,60.22 L54.71,59.86 L54.75,59.51 L54.79,59.16 L54.83,58.80 L54.87,58.45 L54.91,58.10 L54.95,57.75 L54.99,57.39 L55.04,57.03 L55.09,56.67 L55.15,56.31 L55.21,55.94 L55.27,55.57 L55.34,55.19 L55.42,54.81 L55.50,54.42 L55.60,54.02 L55.70,53.61 L55.81,53.20 L55.93,52.78 L56.05,52.35 L56.19,51.90 L56.34,51.45 L56.51,50.99 L56.68,50.51 L56.86,50.03 L57.06,49.57 L57.26,49.12 L57.47,48.69 L57.68,48.31 L57.90,47.97 L58.12,47.69 L58.34,47.48 L58.57,47.35 L58.79,47.30 L59.01,47.35 L59.22,47.48 L59.44,47.70 L59.65,47.98 L59.85,48.32 L60.06,48.71 L60.25,49.13 L60.45,49.58 L60.64,50.05 L60.82,50.52 L61.00,51.00 L61.17,51.45 L61.34,51.90 L61.50,52.33 L61.66,52.76 L61.81,53.17 L61.96,53.57 L62.10,53.96 L62.24,54.34 L62.38,54.72 L62.51,55.09 L62.64,55.45 L62.76,55.80 L62.89,56.15 L63.01,56.50 L63.13,56.84 L63.25,57.18 L63.37,57.52 L63.48,57.86 L63.60,58.19 L63.71,58.53 L63.82,58.87 L63.94,59.21 L64.05,59.55 L64.16,59.89 L64.28,60.24 L64.39,60.59 L64.51,60.95 L64.63,61.30 L64.74,61.67 L64.86,62.03 L64.98,62.40 L65.09,62.77 L65.21,63.14 L65.33,63.52 L65.44,63.90 L65.56,64.28 L65.68,64.66 L65.79,65.04 L65.91,65.43 L66.03,65.81 L66.14,66.20 L66.25,66.59 L66.37,66.97 L66.48,67.36 L66.59,67.75 L66.70,68.14 L66.81,68.53 L66.91,68.91 L67.02,69.30 L67.13,69.68 L67.23,70.07 L67.34,70.45 L67.45,70.84 L67.55,71.22 L67.66,71.60 L67.78,71.98 L67.89,72.36 L68.01,72.73 L68.13,73.11 L68.25,73.48 L68.38,73.85 L68.51,74.22 L68.64,74.58 L68.79,74.95 L68.93,75.31 L69.09,75.67 L69.24,76.02 L69.41,76.38 L69.58,76.73 L69.76,77.07 L69.95,77.42 L70.15,77.76 L70.36,78.10 L70.57,78.43 L70.79,78.76 L71.02,79.08 L71.26,79.40 L71.51,79.71 L71.76,80.01 L72.02,80.31 L72.29,80.60 L72.57,80.88 L72.86,81.15 L73.15,81.41 L73.45,81.67 L73.76,81.91 L74.08,82.14 L74.41,82.37 L74.73,82.59 L75.07,82.80 L75.40,83.01 L75.73,83.21 L76.07,83.42 L76.40,83.63 L76.73,83.85 L77.05,84.07 L77.37,84.30 L77.68,84.54 L77.98,84.79 L78.27,85.05 L78.56,85.32 L78.84,85.60 L79.11,85.88 L79.37,86.18 L79.63,86.48 L79.88,86.79 L80.12,87.10 L80.36,87.42 L80.59,87.74 L80.81,88.07 L81.03,88.40 L81.24,88.74 L81.45,89.07 L81.65,89.41 L81.85,89.76 L82.04,90.10 L82.23,90.44 L82.42,90.79 L82.60,91.14 L82.78,91.49 L82.95,91.84 L83.12,92.20 L83.29,92.55 L83.46,92.91 L83.62,93.26 L83.79,93.62 L83.95,93.98 L84.11,94.34 L84.27,94.70 L84.42,95.06 L84.58,95.42 L84.74,95.78 L84.89,96.14 L85.05,96.50 L85.20,96.86 L85.36,97.22 L85.51,97.58 L85.67,97.94 L85.82,98.30 L85.97,98.67 L86.12,99.03 L86.27,99.39 L86.42,99.76 L86.56,100.12 L86.71,100.49 L86.86,100.85 L87.00,101.22 L87.15,101.58 L87.29,101.95 L87.43,102.32 L87.57,102.69 L87.71,103.05 L87.85,103.42 L87.99,103.79 L88.12,104.16 L88.26,104.53 L88.39,104.90 L88.53,105.27 L88.66,105.64 L88.80,106.01 L88.93,106.38 L89.06,106.75 L89.20,107.12 L89.33,107.49 L89.46,107.86 L89.59,108.23 L89.73,108.60 L89.86,108.97 L89.99,109.34 L90.13,109.70 L90.26,110.07 L90.40,110.44 L90.53,110.80 L90.67,111.17 L90.80,111.53 L90.94,111.90 L91.08,112.26 L91.22,112.62 L91.36,112.98 L91.50,113.34 L91.64,113.71 L91.79,114.07 L91.93,114.43 L92.08,114.79 L92.23,115.15 L92.38,115.50 L92.53,115.86 L92.68,116.22 L92.84,116.58 L93.00,116.94 L93.16,117.30 L93.32,117.65 L93.48,118.01 L93.65,118.37 L93.82,118.73 L93.99,119.09 L94.16,119.45 L94.34,119.80 L94.51,120.16 L94.69,120.52 L94.88,120.88 L95.06,121.23 L95.25,121.59 L95.44,121.95 L95.63,122.30 L95.83,122.66 L96.02,123.02 L96.22,123.37 L96.42,123.72 L96.62,124.08 L96.82,124.43 L97.02,124.78 L97.22,125.13 L97.42,125.47 L97.63,125.82 L97.83,126.17 L98.04,126.51 L98.24,126.86 L98.45,127.20 L98.65,127.54 L98.86,127.88 L99.06,128.22 L99.27,128.56 L99.47,128.89 L99.67,129.23 L99.88,129.57 L100.08,129.90 L100.28,130.24 L100.48,130.57 L100.68,130.90 L100.87,131.24 L101.07,131.57 L101.26,131.90 L101.45,132.23 L101.65,132.56 L101.84,132.89 L102.03,133.23 L102.22,133.56 L102.41,133.89 L102.59,134.21 L102.78,134.54 L102.97,134.87 L103.16,135.20 L103.34,135.53 L103.53,135.86 L103.72,136.19 L103.91,136.52 L104.09,136.86 L104.28,137.19 L104.47,137.52 L104.66,137.85 L104.85,138.18 L105.04,138.52 L105.23,138.85 L105.42,139.19 L105.61,139.52 L105.81,139.86 L106.00,140.20 L106.20,140.54 L106.39,140.88 L106.59,141.22 L106.79,141.56 L106.99,141.90 L107.20,142.24 L107.40,142.59 L107.61,142.93 L107.82,143.28 L108.03,143.62 L108.24,143.96 L108.45,144.31 L108.66,144.65 L108.87,145.00 L109.09,145.34 L109.30,145.69 L109.52,146.03 L109.74,146.37 L109.95,146.71 L110.17,147.05 L110.39,147.39 L110.61,147.73 L110.83,148.07 L111.04,148.41 L111.26,148.74 L111.48,149.08 L111.70,149.41 L111.92,149.74 L112.14,150.07 L112.36,150.40 L112.58,150.73 L112.79,151.05 L113.01,151.38 L113.23,151.70 L113.45,152.02 L113.66,152.34 L113.88,152.66 L114.10,152.98 L114.32,153.29 L114.53,153.61 L114.75,153.92 L114.97,154.24 L115.19,154.55 L115.41,154.86 L115.64,155.18 L115.86,155.49 L116.09,155.80 L116.31,156.11 L116.54,156.42 L116.77,156.73 L117.00,157.04 L117.23,157.35 L117.47,157.67 L117.70,157.97 L117.94,158.28 L118.18,158.59 L118.42,158.90 L118.67,159.21 L118.92,159.52 L119.17,159.83 L119.42,160.13 L119.68,160.44 L119.93,160.75 L120.19,161.05 L120.45,161.36 L120.71,161.66 L120.98,161.96 L121.24,162.26 L121.51,162.56 L121.78,162.86 L122.04,163.15 L122.31,163.45 L122.58,163.75 L122.85,164.04 L123.12,164.33 L123.40,164.62 L123.67,164.91 L123.94,165.20 L124.21,165.49 L124.48,165.78 L124.75,166.07 L125.02,166.35 L125.29,166.64 L125.56,166.93 L125.83,167.21 L126.10,167.49 L126.37,167.77 L126.64,168.06 L126.91,168.34 L127.18,168.61 L127.45,168.89 L127.72,169.17 L127.99,169.44 L128.27,169.72 L128.54,169.99 L128.82,170.26 L129.10,170.53 L129.38,170.80 L129.67,171.06 L129.95,171.32 L130.24,171.58 L130.53,171.84 L130.83,172.09 L131.13,172.34 L131.43,172.59 L131.73,172.83 L132.04,173.07 L132.35,173.30 L132.66,173.53 L132.98,173.76 L133.30,173.98 L133.63,174.20 L133.95,174.41 L134.28,174.63 L134.61,174.84 L134.94,175.04 L135.28,175.25 L135.62,175.45 L135.96,175.65 L136.30,175.85 L136.65,176.05 L137.00,176.25 L137.35,176.45 L137.70,176.65 L138.05,176.85 L138.41,177.05 L138.76,177.24 L139.12,177.44 L139.47,177.64 L139.83,177.83 L140.18,178.02 L140.53,178.21 L140.88,178.40 L141.23,178.59 L141.58,178.77 L141.93,178.95 L142.27,179.13 L142.62,179.30 L142.97,179.48 L143.31,179.65 L143.66,179.82 L144.01,179.98 L144.36,180.15 L144.71,180.31 L145.06,180.46 L145.41,180.62 L145.77,180.77 L146.12,180.92 L146.48,181.07 L146.84,181.21 L147.20,181.35 L147.57,181.49 L147.93,181.63 L148.30,181.76 L148.67,181.89 L149.04,182.01 L149.42,182.13 L149.79,182.25 L150.17,182.36 L150.54,182.48 L150.92,182.58 L151.30,182.69 L151.68,182.79 L152.06,182.89 L152.45,182.98 L152.83,183.07 L153.22,183.16 L153.60,183.24 L153.99,183.32 L154.38,183.40 L154.76,183.48 L155.15,183.55 L155.54,183.61 L155.93,183.68 L156.32,183.74 L156.71,183.80 L157.10,183.85 L157.49,183.91 L157.89,183.95 L158.28,184.00 L158.67,184.04 L159.06,184.08 L159.45,184.12 L159.85,184.16 L160.24,184.19 L160.63,184.22 L161.02,184.24 L161.42,184.27 L161.81,184.29 L162.20,184.31 L162.59,184.32 L162.99,184.34 L163.38,184.35 L163.77,184.36 L164.16,184.37 L164.56,184.37 L164.95,184.38 L165.34,184.38 L165.74,184.38 L166.13,184.38 L166.52,184.37 L166.92,184.37 L167.31,184.36 L167.70,184.35 L168.09,184.34 L168.49,184.32 L168.88,184.31 L169.27,184.30 L169.67,184.28 L170.06,184.26 L170.45,184.24 L170.84,184.22 L171.24,184.20 L171.63,184.18 L172.02,184.15 L172.41,184.13 L172.81,184.10 L173.20,184.07 L173.59,184.05 L173.98,184.02 L174.38,183.99 L174.77,183.96 L175.16,183.93 L175.55,183.89 L175.94,183.86 L176.33,183.83 L176.73,183.79 L177.12,183.76 L177.51,183.72 L177.90,183.69 L178.29,183.65 L178.68,183.61 L179.07,183.57 L179.46,183.53 L179.86,183.49 L180.25,183.45 L180.64,183.41 L181.03,183.37 L181.42,183.33 L181.81,183.29 L182.20,183.24 L182.59,183.20 L182.98,183.16 L183.37,183.11 L183.76,183.07 L184.15,183.03 L184.54,182.98 L184.93,182.94 L185.32,182.89 L185.71,182.85 L186.11,182.80 L186.50,182.75 L186.89,182.71 L187.28,182.66 L187.67,182.62 L188.06,182.57 L188.45,182.53 L188.84,182.48 L189.23,182.43 L189.62,182.39 L190.01,182.34 L190.40,182.30 L190.79,182.25 L191.18,182.20 L191.57,182.16 L191.95,182.11 L192.34,182.07 L192.73,182.03 L193.12,181.98 L193.51,181.94 L193.90,181.89 L194.29,181.85 L194.68,181.81 L195.07,181.76 L195.46,181.72 L195.85,181.68 L196.24,181.64 L196.63,181.60 L197.02,181.56 L197.41,181.52 L197.81,181.48 L198.20,181.44 L198.59,181.40 L198.98,181.36 L199.37,181.32 L199.76,181.29 L200.16,181.25 L200.55,181.22 L200.94,181.18 L201.33,181.15 L201.73,181.12 L202.12,181.08 L202.51,181.05 L202.90,181.02 L203.30,180.99 L203.69,180.96 L204.08,180.94 L204.48,180.91 L204.87,180.88 L205.26,180.86 L205.66,180.84 L206.05,180.81 L206.44,180.79 L206.84,180.77 L207.23,180.75 L207.62,180.74 L208.01,180.72 L208.41,180.70 L208.80,180.69 L209.19,180.68 L209.59,180.66 L209.98,180.65 L210.37,180.64 L210.77,180.64 L211.16,180.63 L211.55,180.62 L211.95,180.62 L212.34,180.61 L212.73,180.61 L213.13,180.61 L213.52,180.61 L213.91,180.61 L214.30,180.61 L214.70,180.61 L215.09,180.61 L215.48,180.62 L215.88,180.62 L216.27,180.63 L216.66,180.64 L217.05,180.64 L217.45,180.65 L217.84,180.66 L218.23,180.67 L218.63,180.69 L219.02,180.70 L219.41,180.71 L219.80,180.73 L220.20,180.74 L220.59,180.76 L220.98,180.78 L221.38,180.80 L221.77,180.82 L222.16,180.84 L222.55,180.86 L222.95,180.88 L223.34,180.90 L223.73,180.93 L224.12,180.95 L224.52,180.98 L224.91,181.00 L225.30,181.03 L225.70,181.06 L226.09,181.08 L226.48,181.11 L226.87,181.14 L227.26,181.17 L227.66,181.21 L228.05,181.24 L228.44,181.27 L228.83,181.30 L229.23,181.34 L229.62,181.37 L230.01,181.41 L230.40,181.45 L230.79,181.48 L231.18,181.52 L231.58,181.56 L231.97,181.60 L232.36,181.64 L232.75,181.68 L233.14,181.72 L233.53,181.76 L233.92,181.80 L234.32,181.84 L234.71,181.89 L235.10,181.93 L235.49,181.98 L235.88,182.02 L236.27,182.07 L236.66,182.11 L237.05,182.16 L237.44,182.20 L237.83,182.25 L238.22,182.30 L238.61,182.35 L239.00,182.40 L239.39,182.45 L239.78,182.50 L240.17,182.55 L240.56,182.60 L240.95,182.65 L241.34,182.70 L241.73,182.75 L242.11,182.80 L242.50,182.86 L242.89,182.91 L243.28,182.96 L243.67,183.02 L244.06,183.07 L244.45,183.13 L244.83,183.18 L245.22,183.24 L245.61,183.29 L246.00,183.35 L246.39,183.40 L246.77,183.46 L247.16,183.52 L247.55,183.57 L247.94,183.63 L248.32,183.69 L248.71,183.75 L249.10,183.80 L249.48,183.86 L249.87,183.92 L250.26,183.98 L250.65,184.04 L251.03,184.10 L251.42,184.16 L251.81,184.22 L252.19,184.28 L252.58,184.34 L252.97,184.40 L253.35,184.46 L253.74,184.52 L254.13,184.58 L254.52,184.64 L254.90,184.70 L255.29,184.76 L255.68,184.82 L256.06,184.88 L256.45,184.94 L256.84,185.00 L257.23,185.07 L257.62,185.13 L258.00,185.19 L258.39,185.25 L258.78,185.31 L259.17,185.37 L259.56,185.44 L259.94,185.50 L260.33,185.56 L260.72,185.62 L261.11,185.69 L261.50,185.75 L261.89,185.81 L262.27,185.87 L262.66,185.94 L263.05,186.00 L263.44,186.06 L263.83,186.13 L264.22,186.19 L264.61,186.25 L265.00,186.32 L265.38,186.38 L265.77,186.44 L266.16,186.51 L266.55,186.57 L266.94,186.63 L267.33,186.70 L267.72,186.76 L268.10,186.83 L268.49,186.89 L268.88,186.96 L269.27,187.02 L269.66,187.09 L270.04,187.15 L270.43,187.21 L270.82,187.28 L271.21,187.35 L271.60,187.41 L271.98,187.48 L272.37,187.54 L272.76,187.61 L273.15,187.67 L273.53,187.74 L273.92,187.81 L274.31,187.87 L274.69,187.94 L275.08,188.00 L275.47,188.07 L275.85,188.14 L276.24,188.21 L276.63,188.27 L277.01,188.34 L277.40,188.41 L277.79,188.48 L278.17,188.54 L278.56,188.61 L278.95,188.68 L279.33,188.75 L279.72,188.82 L280.11,188.89 L280.49,188.95 L280.88,189.02 L281.26,189.09 L281.65,189.16 L282.04,189.23 L282.42,189.30 L282.81,189.37 L283.20,189.44 L283.59,189.51 L283.97,189.58 L284.36,189.66 L284.75,189.73 L285.13,189.80 L285.52,189.87 L285.91,189.94 L286.29,190.01 L286.68,190.09 L287.07,190.16 L287.46,190.23 L287.84,190.31 L288.23,190.38 L288.62,190.45 L289.01,190.53 L289.39,190.60 L289.78,190.68 L290.17,190.75 L290.55,190.82 L290.94,190.90 L291.33,190.98 L291.72,191.05 L292.10,191.13 L292.49,191.20 L292.88,191.28 L293.26,191.36 L293.65,191.43 L294.04,191.51 L294.42,191.59 L294.81,191.66 L295.20,191.74 L295.58,191.82 L295.97,191.90 L296.36,191.98 L296.74,192.06 L297.13,192.13 L297.51,192.21 L297.90,192.29 L298.28,192.37 L298.67,192.45 L299.06,192.53 L299.44,192.61 L299.83,192.69 L300.21,192.77 L300.60,192.85 L300.98,192.93 L301.37,193.01 L301.75,193.09 L302.14,193.18 L302.52,193.26 L302.90,193.34 L303.29,193.42 L303.67,193.50 L304.06,193.58 L304.44,193.66 L304.82,193.74 L305.21,193.82 L305.59,193.91 L305.98,193.99 L306.36,194.07 L306.74,194.15 L307.12,194.23 L307.51,194.31 L307.89,194.39 L308.27,194.47 L308.65,194.55 L309.04,194.64 L309.42,194.72 L309.80,194.80 L310.18,194.88 L310.57,194.96 L310.95,195.04 L311.33,195.12 L311.71,195.20 L312.09,195.28 L312.48,195.36 L312.86,195.44 L313.24,195.52 L313.62,195.60 L314.00,195.68 L314.39,195.76 L314.77,195.84 L315.15,195.92 L315.53,195.99 L315.92,196.07 L316.30,196.15 L316.68,196.23 L317.07,196.31 L317.45,196.39 L317.83,196.46 L318.22,196.54 L318.60,196.62 L318.99,196.69 L319.37,196.77 L319.76,196.85 L320.14,196.92 L320.53,197.00 L320.91,197.08 L321.30,197.15 L321.69,197.23 L322.07,197.30 L322.46,197.38 L322.85,197.45 L323.23,197.53 L323.62,197.60 L324.01,197.67 L324.40,197.75 L324.79,197.82 L325.17,197.89 L325.56,197.97 L325.95,198.04 L326.34,198.11 L326.73,198.18 L327.12,198.25 L327.51,198.32 L327.89,198.40 L328.28,198.47 L328.67,198.54 L329.06,198.61 L329.45,198.68 L329.84,198.75 L330.23,198.82 L330.62,198.88 L331.01,198.95 L331.39,199.02 L331.78,199.09 L332.17,199.16 L332.56,199.23 L332.95,199.29 L333.34,199.36 L333.72,199.43 L334.11,199.49 L334.50,199.56 L334.89,199.62 L335.27,199.69 L335.66,199.75 L336.05,199.82 L336.44,199.88 L336.82,199.95 L337.21,200.01 L337.60,200.08 L337.98,200.14 L338.37,200.20 L338.76,200.27 L339.15,200.33 L339.53,200.39 L339.92,200.46 L340.31,200.52 L340.69,200.58 L341.08,200.64 L341.47,200.70 L341.85,200.76 L342.24,200.83 L342.63,200.89 L343.02,200.95 L343.40,201.01 L343.79,201.07 L344.18,201.13 L344.56,201.19 L344.95,201.25 L345.34,201.31 L345.73,201.36 L346.12,201.42 L346.50,201.48 L346.89,201.54 L347.28,201.60 L347.67,201.66 L348.06,201.71 L348.44,201.77 L348.83,201.83 L349.22,201.89 L349.61,201.94 L350.00,202.00 L350.39,202.06 L350.77,202.11 L351.16,202.17 L351.55,202.23 L351.94,202.28 L352.33,202.34 L352.72,202.39 L353.11,202.45 L353.50,202.50 L353.89,202.56 L354.28,202.61 L354.67,202.67 L355.05,202.72 L355.44,202.78 L355.83,202.83 L356.22,202.88 L356.61,202.94 L357.00,202.99 L357.39,203.04 L357.78,203.10 L358.17,203.15 L358.56,203.20 L358.95,203.26 L359.34,203.31 L359.73,203.36 L360.12,203.41 L360.51,203.46 L360.90,203.52 L361.29,203.57 L361.68,203.62 L362.07,203.67 L362.46,203.72 L362.85,203.77 L363.24,203.82 L363.63,203.87 L364.02,203.92 L364.41,203.97 L364.80,204.02 L365.19,204.07 L365.58,204.12 L365.97,204.17 L366.36,204.22 L366.75,204.27 L367.14,204.32 L367.53,204.37 L367.92,204.42 L368.31,204.47 L368.70,204.52" fill="none" stroke="#00aa00" stroke-width="2.25" stroke-linejoin="round"/>
<g stroke="#000" fill="none">
<path d="M21,234.5 H374.2" stroke-width="2.1"/>
<path d="M28.1,240.9 V22.5" stroke-width="2.1"/>
<path d="M39.41,234.5 v-2.3 M50.71,234.5 v-2.3 M62.02,234.5 v-2.3 M73.33,234.5 v-2.3 M84.64,234.5 v-4.3 M95.94,234.5 v-2.3 M107.25,234.5 v-2.3 M118.56,234.5 v-2.3 M129.86,234.5 v-2.3 M141.17,234.5 v-4.3 M152.48,234.5 v-2.3 M163.78,234.5 v-2.3 M175.09,234.5 v-2.3 M186.40,234.5 v-2.3 M197.71,234.5 v-4.3 M209.01,234.5 v-2.3 M220.32,234.5 v-2.3 M231.63,234.5 v-2.3 M242.93,234.5 v-2.3 M254.24,234.5 v-4.3 M265.55,234.5 v-2.3 M276.85,234.5 v-2.3 M288.16,234.5 v-2.3 M299.47,234.5 v-2.3 M310.78,234.5 v-4.3 M322.08,234.5 v-2.3 M333.39,234.5 v-2.3 M344.70,234.5 v-2.3 M356.00,234.5 v-2.3 M367.31,234.5 v-4.3 M28.1,227.46 h2.6 M28.1,220.42 h2.6 M28.1,213.38 h2.6 M28.1,206.34 h2.6 M28.1,199.30 h4.2 M28.1,192.26 h2.6 M28.1,185.22 h2.6 M28.1,178.18 h2.6 M28.1,171.14 h2.6 M28.1,164.10 h4.2 M28.1,157.06 h2.6 M28.1,150.02 h2.6 M28.1,142.98 h2.6 M28.1,135.94 h2.6 M28.1,128.90 h4.2 M28.1,121.86 h2.6 M28.1,114.82 h2.6 M28.1,107.78 h2.6 M28.1,100.74 h2.6 M28.1,93.70 h4.2 M28.1,86.66 h2.6 M28.1,79.62 h2.6 M28.1,72.58 h2.6 M28.1,65.54 h2.6 M28.1,58.50 h4.2 M28.1,51.46 h2.6 M28.1,44.42 h2.6 M28.1,37.38 h2.6 M28.1,30.34 h2.6 M28.1,23.30 h4.2 " stroke-width="1.5"/>
</g>
<g font-family="Liberation Serif, serif" font-size="14px" fill="#000">
<text transform="translate(24,203.10) scale(0.96,1)" text-anchor="end">0.1</text>
<text transform="translate(24,167.90) scale(0.96,1)" text-anchor="end">0.2</text>
<text transform="translate(24,132.70) scale(0.96,1)" text-anchor="end">0.3</text>
<text transform="translate(24,97.50) scale(0.96,1)" text-anchor="end">0.4</text>
<text transform="translate(24,62.30) scale(0.96,1)" text-anchor="end">0.5</text>
<text transform="translate(24,27.10) scale(0.96,1)" text-anchor="end">0.6</text>
<text transform="translate(84.64,249.1) scale(0.96,1)" text-anchor="middle">5</text>
<text transform="translate(141.67,249.1) scale(0.96,1)" text-anchor="middle">10</text>
<text transform="translate(198.21,249.1) scale(0.96,1)" text-anchor="middle">15</text>
<text transform="translate(254.74,249.1) scale(0.96,1)" text-anchor="middle">20</text>
<text transform="translate(311.28,249.1) scale(0.96,1)" text-anchor="middle">25</text>
<text transform="translate(367.81,249.1) scale(0.96,1)" text-anchor="middle">30</text>
</g>
<g font-family="Liberation Serif, serif" font-size="16px"><text transform="translate(12.4,13.6) scale(1.12,1)">&lt;</text><text transform="translate(22.2,12.7) scale(1.18,1)" font-style="italic">w</text><text transform="translate(34.3,13.6) scale(1.12,1)">&gt;</text></g>
<text transform="translate(383.0,238.7) scale(1.4,1.03)" font-family="Liberation Serif, serif" font-size="15px" font-style="italic">τ</text>
<rect x="282.5" y="85.5" width="82" height="91" fill="#fff" stroke="#808080" stroke-width="1"/>
<path d="M287,102.25 H301.7" stroke="#0000ff" stroke-width="2.45" stroke-dasharray="3.3 2.4"/>
<path d="M287,130.9 H301.8" stroke="#ff0000" stroke-width="2.45" stroke-dasharray="7 2.1"/>
<path d="M287,159.75 H301.8" stroke="#00aa00" stroke-width="2.45"/>
<g font-family="Liberation Serif, serif" fill="#000"><text transform="translate(314.5,105.3)" font-size="13px" font-style="italic">g</text><text transform="translate(321.8,108.1) scale(0.97,1.08)" font-size="10.5px">lin</text><text transform="translate(333.5,104.89999999999999) scale(1,1)" font-size="13px">(t)</text></g>
<g font-family="Liberation Serif, serif" fill="#000"><text transform="translate(314.5,133.8)" font-size="13px" font-style="italic">g</text><text transform="translate(321.8,136.60000000000002) scale(0.97,1.08)" font-size="10.5px">par</text><text transform="translate(336,133.4) scale(1,1)" font-size="13px">(t)</text></g>
<g font-family="Liberation Serif, serif" fill="#000"><text transform="translate(314.5,162.6)" font-size="13px" font-style="italic">g</text><text transform="translate(321.8,165.4) scale(0.97,1.08)" font-size="10.5px">quart</text><text transform="translate(343,162.2) scale(1,1)" font-size="13px">(t)</text></g>
</svg></body></html>
